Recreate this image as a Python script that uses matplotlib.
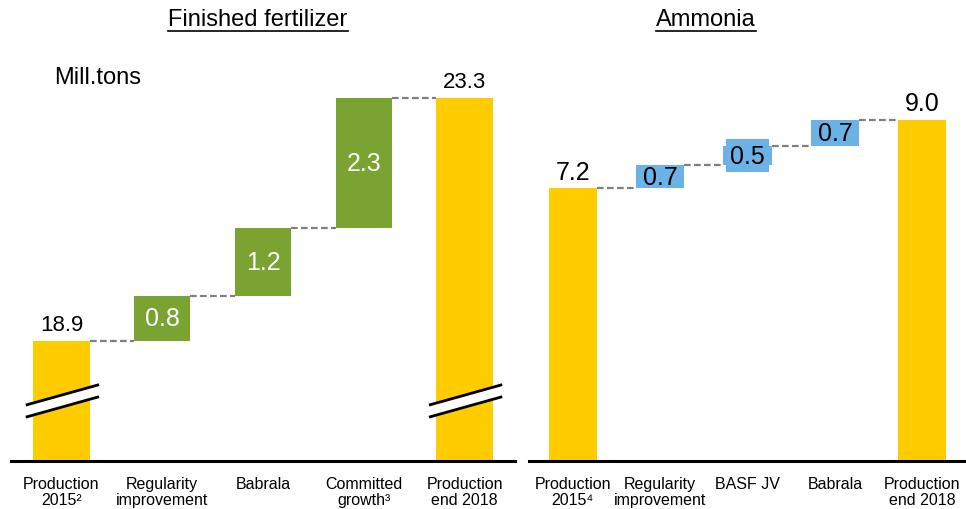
import matplotlib
matplotlib.use("Agg")
import matplotlib.pyplot as plt
from matplotlib.patches import Polygon

plt.rcParams['font.family'] = ['Liberation Sans', 'DejaVu Sans']

# ---- data ----
fert_categories = ["Production\n2015²", "Regularity\nimprovement", "Babrala",
                   "Committed\ngrowth³", "Production\nend 2018"]
fert_start = 18.9
fert_steps = [0.8, 1.2, 2.3]
fert_end = 23.3
fert_step_labels = ["0.8", "1.2", "2.3"]

amm_categories = ["Production\n2015⁴", "Regularity\nimprovement", "BASF JV",
                  "Babrala", "Production\nend 2018"]
amm_start = 7.2
amm_steps = [0.6, 0.5, 0.7]
amm_end = 9.0
amm_step_labels = ["0.7", "0.5", "0.7"]

YELLOW = "#FFCC00"
GREEN = "#7AA332"
BLUE = "#6BB3E6"
DASH = "#7F7F7F"

W, H = 966, 510
fig = plt.figure(figsize=(W / 100, H / 100), dpi=100)

def ax_rect(x0, x1, ybot, ytop):
    return [x0 / W, (H - ybot) / H, (x1 - x0) / W, (ybot - ytop) / H]

axL = fig.add_axes(ax_rect(11, 515, 462, 60))
axR = fig.add_axes(ax_rect(529, 966, 462, 60))

def style(ax, cats):
    for s in ["top", "right", "left"]:
        ax.spines[s].set_visible(False)
    ax.spines["bottom"].set_linewidth(2.2)
    ax.set_yticks([])
    ax.set_xticks(range(len(cats)))
    ax.set_xticklabels(cats, fontsize=11.5, linespacing=1.1)
    ax.tick_params(axis="x", length=0, pad=11)
    ax.set_xlim(-0.5, 4.5)

def waterfall(ax, start, steps, bottom, width, step_color, step_labels,
              label_color, label_size, box_idx=None):
    n = len(steps) + 2
    ax.bar(0, start - bottom, bottom=bottom, width=width, color=YELLOW, zorder=2)
    tops = [start]
    cur = start
    for i, s in enumerate(steps):
        ax.bar(i + 1, s, bottom=cur, width=width, color=step_color, zorder=2)
        kw = {}
        if box_idx is not None and i == box_idx:
            kw["bbox"] = dict(boxstyle="square,pad=0.18", fc=step_color, ec="none")
        ax.text(i + 1, cur + s / 2, step_labels[i], ha="center", va="center",
                fontsize=label_size, color=label_color, zorder=4, **kw)
        cur += s
        tops.append(cur)
    ax.bar(n - 1, cur - bottom, bottom=bottom, width=width, color=YELLOW, zorder=2)
    tops.append(cur)
    for i in range(n - 1):
        ax.plot([i + width / 2, i + 1 - width / 2], [tops[i], tops[i]], color=DASH,
                lw=1.6, ls=(0, (3, 1.5)), zorder=1)
    return tops

# left chart (broken axis)
fert_bottom = 16.78
axL.set_ylim(fert_bottom, fert_bottom + 402 / 56.6)
style(axL, fert_categories)
tL = waterfall(axL, fert_start, fert_steps, fert_bottom, 0.56, GREEN,
               fert_step_labels, "white", 18)
axL.text(0, fert_start + 0.1, f"{fert_start:.1f}", ha="center", va="bottom", fontsize=16)
axL.text(4, tL[-1] + 0.1, f"{fert_end:.1f}", ha="center", va="bottom", fontsize=16)

# break marks
for xc in [0, 4]:
    xl, xr = xc - 0.34, xc + 0.36
    poly = Polygon([(xl, 0.110), (xr, 0.159), (xr, 0.189), (xl, 0.140)],
                   closed=True, facecolor="white", edgecolor="none",
                   transform=axL.get_xaxis_transform(), zorder=3, clip_on=False)
    axL.add_patch(poly)
    for (yl, yr) in [(0.140, 0.189), (0.110, 0.159)]:
        axL.plot([xl, xr], [yl, yr], color="black", lw=2,
                 transform=axL.get_xaxis_transform(), zorder=3, clip_on=False)

axL.text(0.085, 0.955, "Mill.tons", transform=axL.transAxes, fontsize=17,
         ha="left", va="center")

# right chart
axR.set_ylim(0, 402 / 37.9)
style(axR, amm_categories)
tR = waterfall(axR, amm_start, amm_steps, 0, 0.55, BLUE,
               amm_step_labels, "black", 18, box_idx=1)
axR.text(0, amm_start + 0.12, f"{amm_start:.1f}", ha="center", va="bottom", fontsize=18)
axR.text(4, amm_end + 0.12, f"{amm_end:.1f}", ha="center", va="bottom", fontsize=18)

# titles (underlined)
for xc, title in [(258, "Finished fertilizer"), (706, "Ammonia")]:
    fig.text(xc / W, 1 - 20 / H, title, ha="center", va="center", fontsize=17)
fig.canvas.draw()
r = fig.canvas.get_renderer()
for t in list(fig.texts):
    bb = t.get_window_extent(renderer=r)
    y = bb.y0 - 1
    fig.add_artist(plt.Line2D([bb.x0 / W, bb.x1 / W], [y / H, y / H],
                              color="black", lw=1.2, transform=fig.transFigure))

fig.savefig("out.png", dpi=100)
